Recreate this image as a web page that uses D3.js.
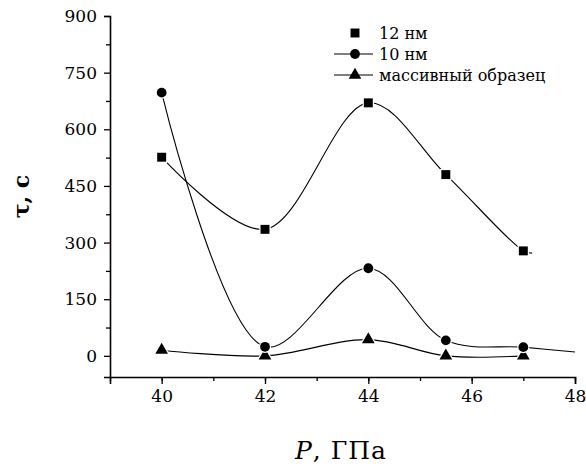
<!DOCTYPE html>
<html>
<head>
<meta charset="utf-8">
<script src="https://cdn.jsdelivr.net/npm/d3@7"></script>
<style>
  body { margin: 0; background: #fff; }
  text { font-family: "DejaVu Serif", "Liberation Serif", serif; fill: #000; }
</style>
</head>
<body>
<svg id="chart"></svg>
<script>
const pressure = [40, 42, 44, 45.5, 47];
const tau12 = [526, 335, 670, 480, 278];
const tau10 = [697, 24, 232, 41, 23];
const tauBulk = [15, 0, 43, 0, 0];
// where the fitted curves run on past the last marker
const tail12 = [47.17, 272];
const tail10 = [48, 10];
const xTicks = [40, 42, 44, 46, 48];
const yTicks = [0, 150, 300, 450, 600, 750, 900];
const legendLabels = ['12 нм', '10 нм', 'массивный образец'];

const width = 586, height = 466;
const margin = { top: 16, right: 11, bottom: 89, left: 110 };
const w = width - margin.left - margin.right;
const h = height - margin.top - margin.bottom;

const svg = d3.select('#chart')
    .attr('width', width)
    .attr('height', height);

const x = d3.scaleLinear().domain([39, 48]).range([0, w]);
const y = d3.scaleLinear().domain([-56, 900]).range([h, 0]);

const g = svg.append('g')
    .attr('transform', `translate(${margin.left},${margin.top})`);

// minor ticks
g.append('g')
    .attr('transform', `translate(0,${h})`)
    .call(d3.axisBottom(x).tickValues(d3.range(39, 49, 1)).tickSize(4).tickFormat(''))
    .call(a => a.select('.domain').remove());
g.append('g')
    .call(d3.axisLeft(y).tickValues(d3.range(75, 900, 150)).tickSize(4).tickFormat(''))
    .call(a => a.select('.domain').remove());

const xAxis = g.append('g')
    .attr('transform', `translate(0,${h})`)
    .call(d3.axisBottom(x).tickValues(xTicks).tickSize(7).tickPadding(6));
const yAxis = g.append('g')
    .call(d3.axisLeft(y).tickValues(yTicks).tickSize(6).tickPadding(7));

[xAxis, yAxis].forEach(a => {
    a.selectAll('text').style('font-size', '17px');
    a.select('.domain').attr('stroke-width', 1.6);
});
g.selectAll('.tick line').attr('stroke-width', 1.3);

const line = d3.line()
    .x(d => x(d[0]))
    .y(d => y(d[1]))
    .curve(d3.curveCatmullRom.alpha(0.5));

const pts12 = pressure.map((p, i) => [p, tau12[i]]);
const pts10 = pressure.map((p, i) => [p, tau10[i]]);
const ptsBulk = pressure.map((p, i) => [p, tauBulk[i]]);

[[...pts12, tail12], [...pts10, tail10], ptsBulk].forEach(pts => {
    g.append('path')
        .attr('d', line(pts))
        .attr('fill', 'none')
        .attr('stroke', '#000')
        .attr('stroke-width', 1.1);
});

const sym = {
    square: d3.symbol().type(d3.symbolSquare).size(80),
    circle: d3.symbol().type(d3.symbolCircle).size(75),
    triangle: d3.symbol().type(d3.symbolTriangle).size(70)
};

function markers(pts, s) {
    g.selectAll(null)
        .data(pts)
        .enter()
        .append('path')
        .attr('d', s)
        .attr('transform', d => `translate(${x(d[0])},${y(d[1])})`)
        .attr('fill', '#000')
        .attr('stroke', '#fff')
        .attr('stroke-width', 2.5)
        .attr('paint-order', 'stroke');
}
markers(ptsBulk, sym.triangle);
markers(pts10, sym.circle);
markers(pts12, sym.square);

// legend
const legend = svg.append('g').attr('transform', 'translate(355,33)');
const kinds = ['square', 'circle', 'triangle'];
legendLabels.forEach((lab, i) => {
    const row = legend.append('g').attr('transform', `translate(0,${i * 21})`);
    if (i > 0) {
        row.append('line')
            .attr('x1', -21).attr('x2', 18)
            .attr('stroke', '#000').attr('stroke-width', 1.1);
    }
    row.append('path').attr('d', sym[kinds[i]]).attr('fill', '#000');
    row.append('text')
        .attr('x', 24).attr('dy', '0.35em')
        .style('font-size', '16px')
        .text(lab);
});

// axis titles
svg.append('text')
    .attr('transform', `translate(29,${margin.top + h / 2}) rotate(-90)`)
    .attr('text-anchor', 'middle')
    .style('font-size', '22px')
    .style('font-weight', 'bold')
    .text('τ, c');

const xt = svg.append('text')
    .attr('x', 341)
    .attr('y', 459)
    .attr('text-anchor', 'middle')
    .style('font-size', '25px')
    .style('letter-spacing', '1px');
xt.append('tspan').style('font-style', 'italic').text('P');
xt.append('tspan').text(', ГПа');
</script>
</body>
</html>
